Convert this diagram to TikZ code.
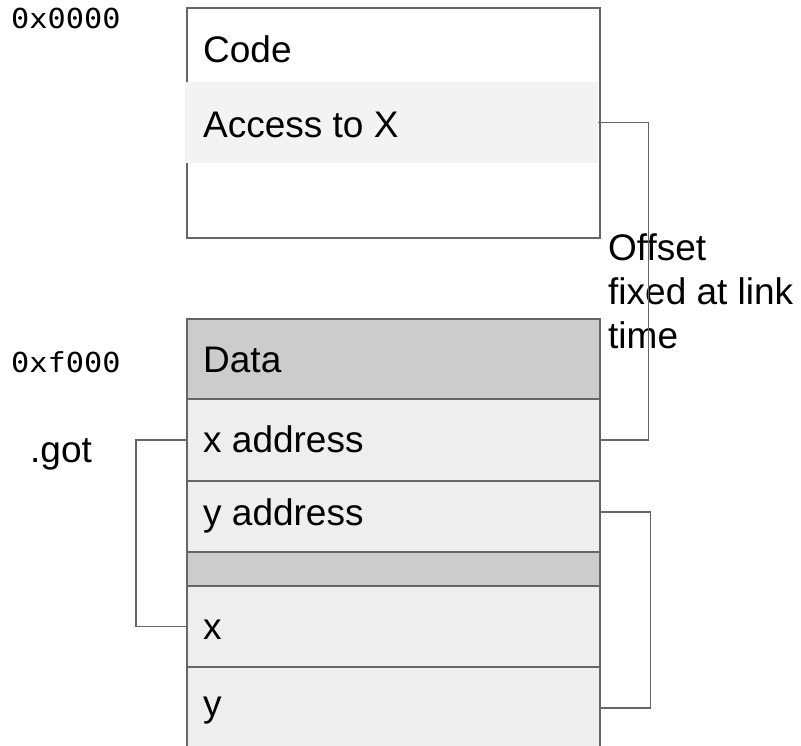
\documentclass[tikz,border=0pt]{standalone}
\usepackage{fontspec}
\setmainfont{Liberation Sans}
\newfontfamily\addrfont[FakeStretch=1.1]{DejaVu Sans Mono}
\definecolor{linegray}{HTML}{666666}
\definecolor{bandgray}{HTML}{F3F3F3}
\definecolor{darkfill}{HTML}{CCCCCC}
\definecolor{lightfill}{HTML}{EEEEEE}
\begin{document}
\begin{tikzpicture}[x=1pt,y=-1pt,
  row/.style={draw=linegray, line width=1.5pt, rectangle, anchor=north west, minimum width=413pt, inner sep=0pt},
  band/.style={rectangle, anchor=north west, minimum width=413pt, inner sep=0pt, fill=bandgray},
  lbl/.style={anchor=base west, inner sep=0pt, font=\fontsize{37}{44}\selectfont},
  addr/.style={anchor=base west, inner sep=0pt, font=\addrfont\fontsize{27.5}{32}\selectfont},
  conn/.style={draw=linegray, line width=1.5pt}]
\useasboundingbox (0,0) rectangle (801,745);
\clip (0,0) rectangle (801,745);
% code segment
\node[row, fill=white, minimum height=230pt] (code) at (186,7) {};
\node[band, minimum height=81pt] (access) at (185,82) {};
% data segment
\node[row, fill=darkfill, minimum height=80pt] (data) at (186,318) {};
\node[row, fill=lightfill, minimum height=82pt] (xaddr) at (186,398) {};
\node[row, fill=lightfill, minimum height=71pt] (yaddr) at (186,480) {};
\node[row, fill=darkfill, minimum height=34pt] (gap) at (186,551) {};
\node[row, fill=lightfill, minimum height=81pt] (xrow) at (186,585) {};
\node[row, fill=lightfill, minimum height=84pt] (yrow) at (186,666) {};
% labels
\node[lbl] (tcode) at (203,62) {Code};
\node[lbl] (taccess) at (203,137) {Access to X};
\node[lbl] (tdata) at (203,372) {Data};
\node[lbl] (txaddr) at (203,452) {x address};
\node[lbl] (tyaddr) at (203,525) {y address};
\node[lbl] (tx) at (203,639) {x};
\node[lbl] (ty) at (203,716) {y};
\node[lbl] (tgot) at (30,462) {.got};
\node[addr] (a0) at (11,28) {0x0000};
\node[addr] (a1) at (11,372) {0xf000};
\node[lbl, align=left] (toffset) at (608,348) {Offset\\fixed at link\\time};
% connectors
\draw[conn] (access.east) -- ++(50,0) |- (xaddr.east);
\draw[conn] (xaddr.west) -- ++(-50,0) |- (xrow.west);
\draw[conn] ([yshift=4.5pt]yaddr.east) -- ++(50,0) |- ([yshift=1pt]yrow.east);
\end{tikzpicture}
\end{document}
